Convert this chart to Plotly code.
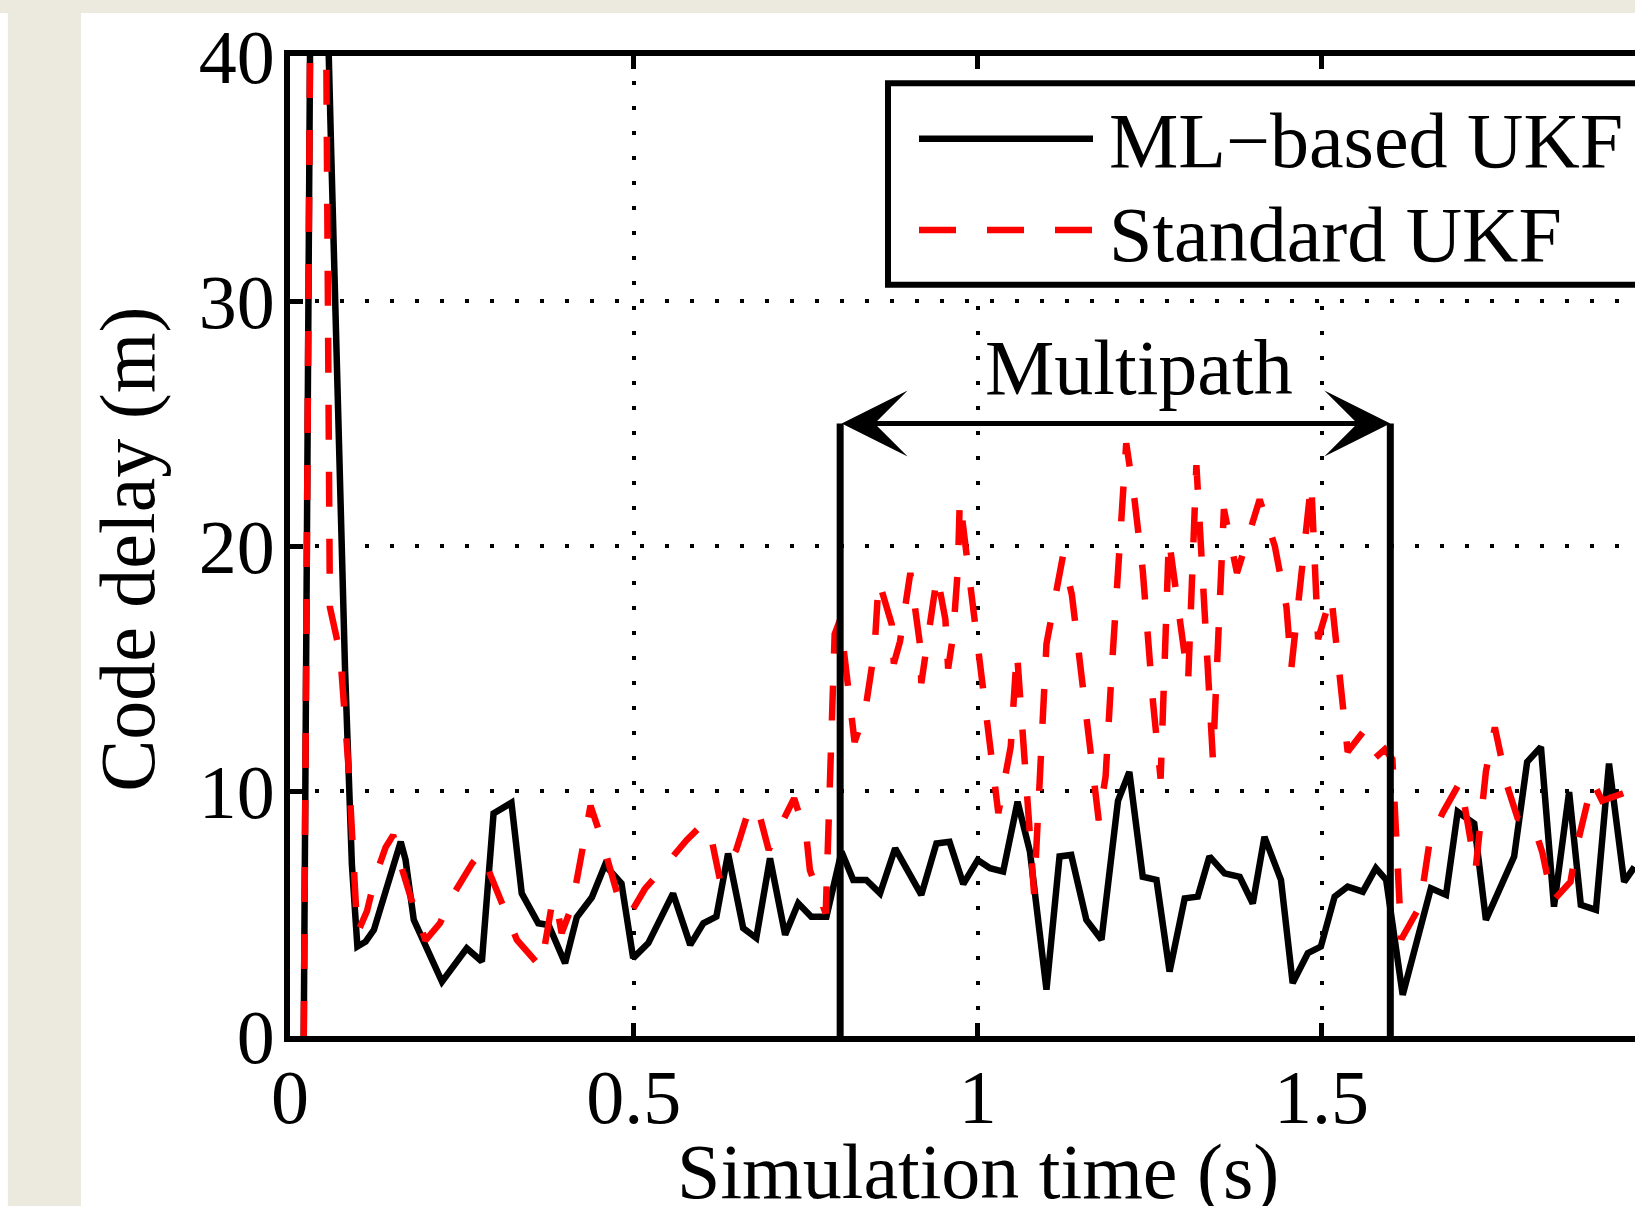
import plotly.graph_objects as go

# ---------------- data ----------------
black_t = [0.020, 0.030, 0.040, 0.050, 0.060, 0.070, 0.080, 0.090, 0.098, 0.110,
           0.122, 0.161, 0.168, 0.180, 0.221, 0.257, 0.279, 0.296, 0.308, 0.322,
           0.337, 0.361, 0.376, 0.400, 0.417, 0.439, 0.458, 0.482, 0.499, 0.521,
           0.557, 0.582, 0.601, 0.620, 0.637, 0.659, 0.678, 0.698, 0.720, 0.739,
           0.758, 0.780, 0.802, 0.819, 0.838, 0.858, 0.880, 0.918, 0.940, 0.959,
           0.979, 1.000, 1.018, 1.037, 1.058, 1.076, 1.100, 1.119, 1.136, 1.158,
           1.180, 1.204, 1.2205, 1.240, 1.260, 1.279, 1.301, 1.320, 1.337, 1.359,
           1.381, 1.400, 1.417, 1.441, 1.458, 1.480, 1.499, 1.519, 1.538, 1.560,
           1.579, 1.594, 1.618, 1.659, 1.681, 1.698, 1.722, 1.739, 1.780, 1.799,
           1.819, 1.838, 1.860, 1.877, 1.899, 1.918, 1.940, 1.955]
black_y = [0.0, 44.0, 55.0, 47.0, 36.0, 25.0, 15.0, 7.0, 3.65, 3.85,
           4.33, 7.93, 7.2, 4.74, 2.22, 3.58, 3.04, 9.08, 9.29, 9.52,
           5.82, 4.60, 4.53, 2.97, 4.85, 5.66, 6.98, 6.23, 3.18, 3.79,
           5.82, 3.72, 4.60, 4.87, 7.45, 4.40, 4.00, 7.25, 4.13, 5.42,
           4.87, 4.87, 7.52, 6.37, 6.37, 5.82, 7.66, 5.76, 7.86, 7.93,
           6.20, 7.18, 6.85, 6.71, 9.56, 7.52, 1.89, 7.33, 7.39, 4.74,
           3.93, 9.6, 10.78, 6.50, 6.37, 2.63, 5.62, 5.69, 7.33, 6.64,
           6.50, 5.41, 8.13, 6.37, 2.16, 3.38, 3.65, 5.69, 6.10, 5.89,
           6.85, 6.37, 1.68, 6.03, 5.76, 9.15, 8.67, 4.74, 7.32, 11.19,
           11.80, 5.28, 9.96, 5.35, 5.15, 11.12, 6.29, 6.90]

red_t = [0.020, 0.030, 0.040, 0.050, 0.058, 0.062, 0.073, 0.085, 0.098, 0.112,
         0.124, 0.139, 0.150, 0.161, 0.175, 0.197, 0.218, 0.238, 0.265, 0.278,
         0.294, 0.313, 0.330, 0.365, 0.381, 0.386, 0.395, 0.410, 0.420, 0.437,
         0.453, 0.466, 0.480, 0.495, 0.516, 0.548, 0.577, 0.601, 0.611, 0.625,
         0.649, 0.664, 0.679, 0.686, 0.696, 0.722, 0.733, 0.751, 0.756, 0.779,
         0.792, 0.800, 0.821, 0.836, 0.850, 0.856, 0.875, 0.878, 0.887, 0.902,
         0.916, 0.918, 0.926, 0.941, 0.953, 0.957, 0.964, 0.971, 0.974, 1.030,
         1.048, 1.057, 1.082, 1.100, 1.124, 1.137, 1.176, 1.186, 1.195, 1.206,
         1.216, 1.228, 1.240, 1.255, 1.266, 1.278, 1.306, 1.318, 1.342, 1.358,
         1.377, 1.410, 1.432, 1.449, 1.456, 1.485, 1.495, 1.514, 1.538, 1.560,
         1.576, 1.592, 1.603, 1.616, 1.643, 1.657, 1.676, 1.702, 1.724, 1.739,
         1.752, 1.770, 1.785, 1.807, 1.821, 1.836, 1.862, 1.870, 1.882, 1.894,
         1.908, 1.923, 1.943, 1.955]
red_y = [0.0, 44.0, 58.0, 52.0, 17.5, 17.0, 15.6, 11.0, 4.2, 5.1,
         6.5, 7.7, 8.2, 7.0, 5.7, 3.9, 4.6, 5.8, 7.05, 7.5,
         6.44, 5.15, 3.92, 2.8, 5.4, 5.6, 4.2, 5.3, 6.8, 9.4,
         8.06, 6.7, 5.4, 5.0, 6.0, 7.04, 8.0, 8.67, 8.3, 6.4,
         7.6, 8.95, 9.42, 8.67, 7.6, 9.08, 9.7, 8.13, 6.77, 5.0,
         16.4, 17.0, 12.0, 13.2, 15.8, 18.6, 16.8, 15.2, 16.1, 18.9,
         16.0, 14.4, 15.9, 18.8, 17.0, 15.0, 16.3, 19.0, 21.9, 9.1,
         11.8, 15.7, 5.8, 16.0, 19.6, 18.0, 8.8, 10.6, 15.0, 20.0,
         24.2, 21.9, 19.0, 13.6, 10.5, 20.3, 14.5, 23.3, 11.3, 21.5,
         18.9, 21.9, 20.0, 17.5, 15.0, 22.6, 16.2, 18.0, 11.6, 12.4,
         11.3, 11.7, 11.3, 3.95, 5.3, 7.9, 9.1, 10.4, 6.8, 10.8,
         12.6, 10.2, 8.9, 8.7, 7.5, 5.5, 6.3, 7.6, 8.9, 10.4,
         9.6, 9.75, 9.95, 9.6]

series_names = ["ML\u2212based UKF", "Standard UKF"]
x_tick_vals = [0, 0.5, 1, 1.5]
x_tick_text = ["0", "0.5", "1", "1.5"]
y_tick_vals = [0, 10, 20, 30, 40]
y_tick_text = ["0", "10", "20", "30", "40"]
multipath_start = 0.8
multipath_end = 1.6
multipath_level = 25
multipath_label = "Multipath"
x_title = "Simulation time (s)"
y_title = "Code delay (m)"

# ---------------- geometry / styling ----------------
W, H = 1635, 1206
ML, MT, MB, MR = 290, 55.7, 170.3, 0
PW = W - ML - MR
PH = H - MT - MB
X_MAX = PW / 687.7

def px(X):
    return (X - ML) / PW

def py(Y):
    return (MT + PH - Y) / PH

FONT = "Liberation Serif"
BEIGE = "#ECE9DF"
LW = 6.5

fig = go.Figure()
fig.add_trace(go.Scatter(x=black_t, y=black_y, mode="lines", name=series_names[0],
                         line=dict(color="black", width=LW), showlegend=False))
fig.add_trace(go.Scatter(x=red_t, y=red_y, mode="lines", name=series_names[1],
                         line=dict(color="red", width=LW, dash="35px,32px"),
                         showlegend=False))

shapes = [
    # window background strips
    dict(type="rect", xref="paper", yref="paper", x0=px(7.8), x1=px(81),
         y0=py(H + 5), y1=py(12.6), fillcolor=BEIGE, line=dict(width=0), layer="below"),
    dict(type="rect", xref="paper", yref="paper", x0=px(-5), x1=px(W + 5),
         y0=py(12.6), y1=py(-5), fillcolor=BEIGE, line=dict(width=0), layer="below"),
    # multipath window
    dict(type="line", xref="x", yref="y", x0=multipath_start, x1=multipath_start,
         y0=0, y1=multipath_level, line=dict(color="black", width=7), layer="above"),
    dict(type="line", xref="x", yref="y", x0=multipath_end, x1=multipath_end,
         y0=0, y1=multipath_level, line=dict(color="black", width=7), layer="above"),
    # legend box
    dict(type="rect", xref="paper", yref="paper", x0=px(888), x1=px(1720),
         y0=py(284.5), y1=py(83), fillcolor="white",
         line=dict(color="black", width=6), layer="above"),
    dict(type="line", xref="paper", yref="paper", x0=px(919), x1=px(1093),
         y0=py(138.5), y1=py(138.5), line=dict(color="black", width=LW), layer="above"),
    dict(type="line", xref="paper", yref="paper", x0=px(919), x1=px(1093),
         y0=py(229.6), y1=py(229.6), line=dict(color="red", width=LW, dash="37px,31px"),
         layer="above"),
]

annotations = [
    dict(x=multipath_end, y=multipath_level, ax=multipath_start, ay=multipath_level,
         xref="x", yref="y", axref="x", ayref="y", text="", showarrow=True,
         arrowhead=3, startarrowhead=3, arrowside="end+start",
         arrowsize=2.2, startarrowsize=2.2, arrowwidth=5, arrowcolor="black",
         standoff=0, startstandoff=0),
    dict(x=1.234, y=27.28, xref="x", yref="y", text=multipath_label, showarrow=False,
         xanchor="center", yanchor="middle", font=dict(family=FONT, size=78, color="black")),
    dict(x=px(1107), y=py(139.7), xref="paper", yref="paper", text=series_names[0],
         showarrow=False, xanchor="left", yanchor="middle",
         font=dict(family=FONT, size=78, color="black")),
    dict(x=px(1107), y=py(234), xref="paper", yref="paper", text=series_names[1],
         showarrow=False, xanchor="left", yanchor="middle",
         font=dict(family=FONT, size=78, color="black")),
    dict(x=1.0, y=py(1171), xref="x", yref="paper", text=x_title, showarrow=False,
         xanchor="center", yanchor="middle", font=dict(family=FONT, size=78, color="black")),
    dict(x=px(128), y=py(549.5), xref="paper", yref="paper", text=y_title, showarrow=False,
         textangle=-90, xanchor="center", yanchor="middle",
         font=dict(family=FONT, size=78, color="black")),
]

axis_common = dict(showline=True, linecolor="black", linewidth=6,
                   ticks="inside", ticklen=13, tickwidth=5, tickcolor="black",
                   showgrid=True, gridcolor="black", gridwidth=4, griddash="4px,21px",
                   zeroline=False, tickfont=dict(family=FONT, size=76, color="black"))

fig.update_layout(
    width=W, height=H,
    margin=dict(l=ML, r=MR, t=MT, b=MB, pad=0),
    paper_bgcolor="white", plot_bgcolor="white",
    showlegend=False, hovermode=False,
    xaxis=dict(range=[0, X_MAX], tickmode="array", tickvals=x_tick_vals,
               ticktext=x_tick_text, mirror="ticks", ticklabelstandoff=-10,
               **axis_common),
    yaxis=dict(range=[0, 40], tickmode="array", tickvals=y_tick_vals,
               ticktext=y_tick_text, mirror=False, ticklabelstandoff=-6,
               **axis_common),
    shapes=shapes, annotations=annotations,
)

fig.write_html(
    "out.html",
    config={"displayModeBar": False},
    post_script="document.body.style.margin='0';document.body.style.overflow='hidden';",
)
